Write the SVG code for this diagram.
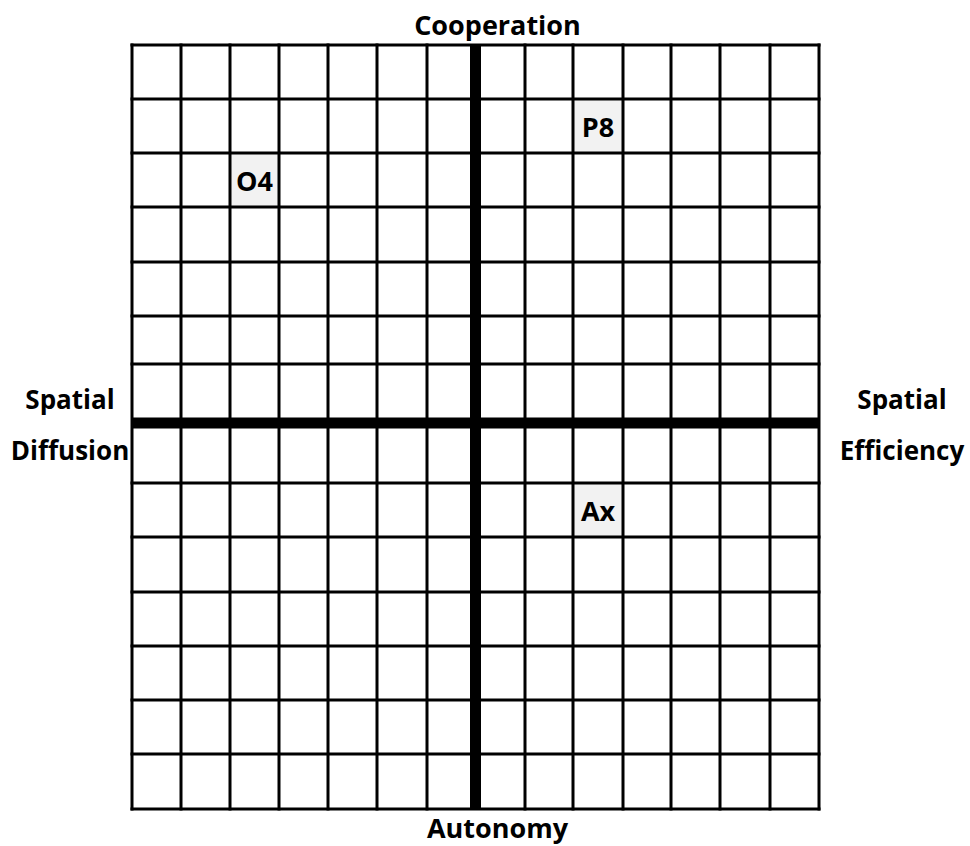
<svg xmlns="http://www.w3.org/2000/svg" width="970" height="846" viewBox="0 0 970 846">
  <style>
    .grid { stroke: #000; stroke-width: 3; fill: none; stroke-linecap: square; }
    .axis { stroke: #000; stroke-width: 11; fill: none; }
    .cell { fill: #f2f2f2; stroke: none; }
    .lbl { font-family: "Open Sans", "Liberation Sans", sans-serif; font-weight: bold; font-size: 27px; fill: #000; text-anchor: middle; }
    .side { font-size: 26px; }
  </style>
  <rect width="970" height="846" fill="#fff"/>
  <g id="cells">
    <rect class="cell" x="230" y="153" width="49" height="54"/>
    <rect class="cell" x="573" y="99" width="50" height="54"/>
    <rect class="cell" x="573" y="483" width="50" height="54"/>
  </g>
  <g id="grid">
    <path class="grid" d="M132 45H819M132 99H819M132 153H819M132 207H819M132 262H819M132 316H819M132 364H819M132 483H819M132 537H819M132 592H819M132 646H819M132 700H819M132 754H819M132 809H819"/>
    <path class="grid" d="M132 45V809M181 45V809M230 45V809M279 45V809M328 45V809M377 45V809M427 45V809M525 45V809M573 45V809M623 45V809M671 45V809M720 45V809M770 45V809M819 45V809"/>
  </g>
  <g id="axes">
    <line class="axis" x1="132" y1="423" x2="819" y2="423"/>
    <line class="axis" x1="475.5" y1="45" x2="475.5" y2="809"/>
  </g>
  <g id="node-O4"><text class="lbl" x="254.5" y="190.5">O4</text></g>
  <g id="node-P8"><text class="lbl" x="598" y="136.5">P8</text></g>
  <g id="node-Ax"><text class="lbl" x="598" y="520.5">Ax</text></g>
  <g id="axis-labels">
    <text class="lbl" x="497.5" y="35">Cooperation</text>
    <text class="lbl" x="497.5" y="838">Autonomy</text>
    <text class="lbl side" x="70" y="408.5">Spatial</text>
    <text class="lbl side" x="70" y="459.5">Diffusion</text>
    <text class="lbl side" x="902" y="408.5">Spatial</text>
    <text class="lbl side" x="902" y="459.5">Efficiency</text>
  </g>
</svg>
